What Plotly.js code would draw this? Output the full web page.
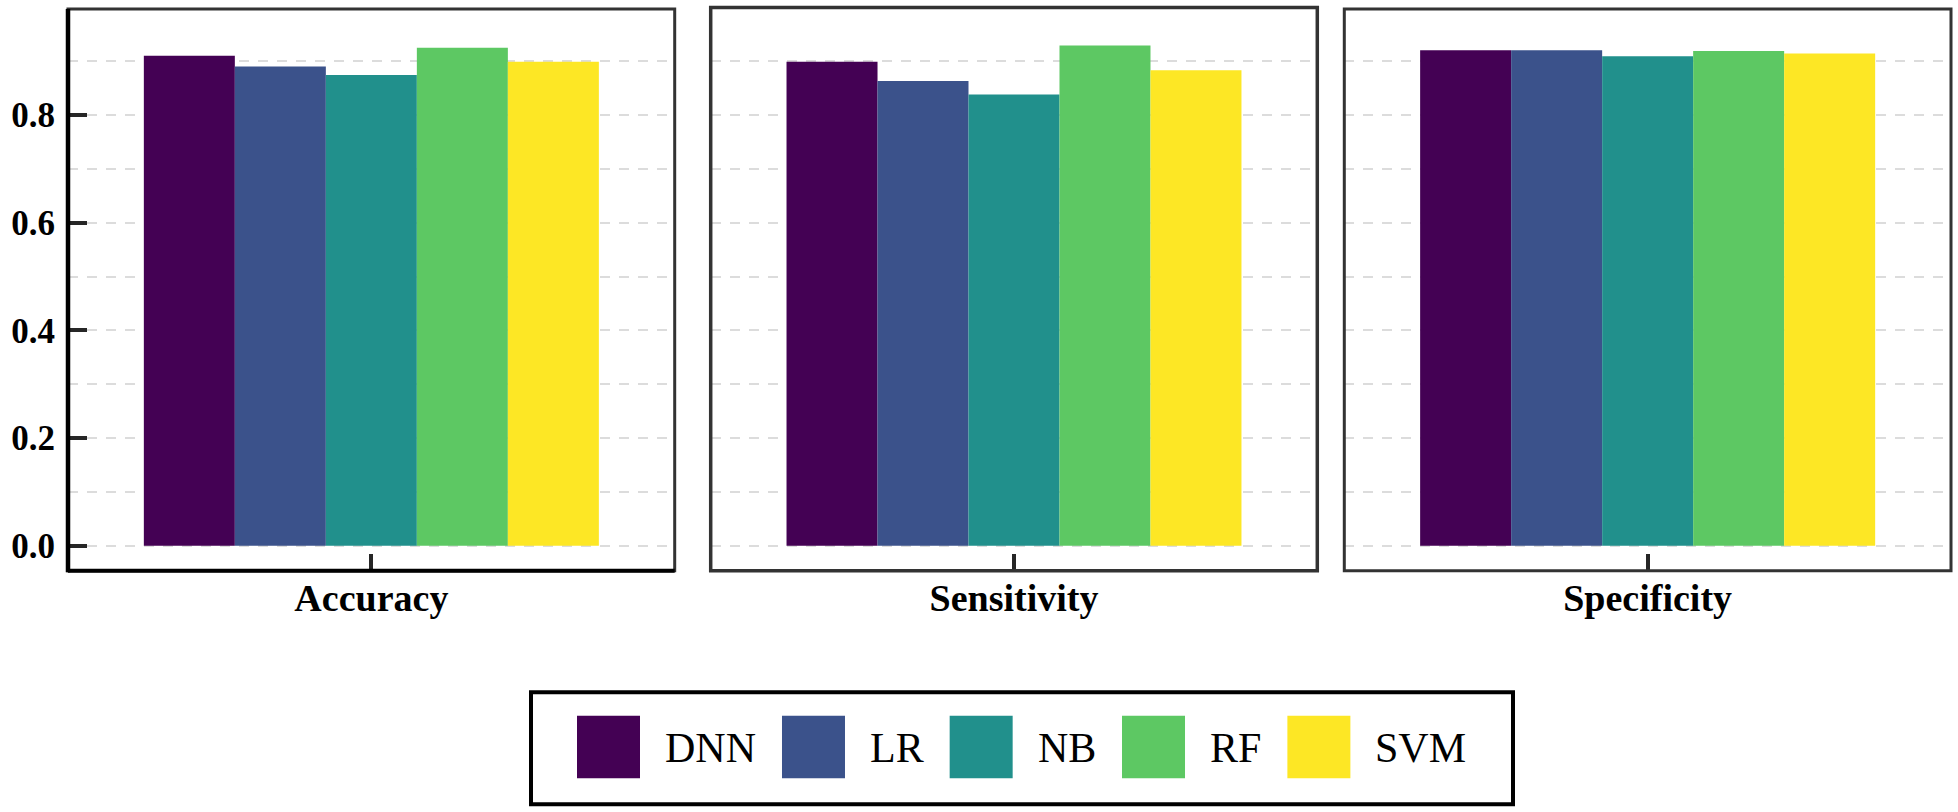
<!DOCTYPE html>
<html>
<head>
<meta charset="utf-8">
<script src="https://cdn.plot.ly/plotly-3.0.1.min.js"></script>
<style>html,body{margin:0;padding:0;background:#fff;}</style>
</head>
<body>
<div id="chart"></div>
<script>
// ---- data ----
const categories = ['Accuracy', 'Sensitivity', 'Specificity'];
const models = ['DNN', 'LR', 'NB', 'RF', 'SVM'];
const colors = ['#440154', '#3B528B', '#21908C', '#5DC863', '#FDE725'];
const DNN = [0.910, 0.899, 0.920];
const LR  = [0.890, 0.863, 0.920];
const NB  = [0.874, 0.838, 0.909];
const RF  = [0.925, 0.929, 0.919];
const SVM = [0.899, 0.883, 0.914];
const yTickVals = [0, 0.2, 0.4, 0.6, 0.8];
const yTickText = ['0.0', '0.2', '0.4', '0.6', '0.8'];
const seriesValues = [DNN, LR, NB, RF, SVM];

// ---- layout geometry (pixels) ----
const W = 1958, H = 812;
const panels = [[68, 674.7], [710.7, 1317.3], [1344.3, 1951]];
const panelTop = 9, panelBottom = 570.7;
const px = v => v / W;
const py = v => 1 - v / H;
const FONT = 'Liberation Serif';

const traces = [];
models.forEach((m, i) => {
  categories.forEach((c, p) => {
    const sfx = p === 0 ? '' : String(p + 1);
    traces.push({
      type: 'bar', name: m, x: [c], y: [seriesValues[i][p]],
      xaxis: 'x' + sfx, yaxis: 'y' + sfx,
      marker: { color: colors[i], line: { width: 0 } },
      showlegend: false, hoverinfo: 'skip'
    });
  });
});

const layout = {
  width: W, height: H,
  margin: { l: 0, r: 0, t: 0, b: 0 },
  paper_bgcolor: '#ffffff', plot_bgcolor: '#ffffff',
  barmode: 'group', bargap: 0.1, bargroupgap: 0,
  showlegend: false,
  font: { family: FONT, color: '#000' },
  shapes: [], annotations: []
};

const yDomain = [py(panelBottom), py(panelTop)];
categories.forEach((c, p) => {
  const sfx = p === 0 ? '' : String(p + 1);
  layout['xaxis' + sfx] = {
    domain: [px(panels[p][0]), px(panels[p][1])],
    anchor: 'y' + sfx,
    type: 'category', range: [-0.6, 0.6],
    showgrid: false, zeroline: false, showline: false,
    ticks: 'inside', ticklen: 17, tickwidth: 4, tickcolor: '#262626',
    ticklabelstandoff: 1,
    tickfont: { family: FONT, size: 38, color: '#000', weight: 700 },
    fixedrange: true
  };
  const gridStyle = { gridcolor: '#dcdcdc', griddash: '10px,9px', gridwidth: 2 };
  layout['yaxis' + sfx] = Object.assign({
    domain: yDomain, anchor: 'x' + sfx,
    range: [-0.0464, 0.9968],
    tickmode: 'array', tickvals: yTickVals, ticktext: yTickText,
    showgrid: true, zeroline: false, showline: false,
    ticks: p === 0 ? 'inside' : '', ticklen: 19, tickwidth: 4, tickcolor: '#262626',
    showticklabels: p === 0,
    ticklabelstandoff: 12,
    tickfont: { family: FONT, size: 35, color: '#000', weight: 700 },
    minor: Object.assign({ tick0: 0, dtick: 0.1, showgrid: true, ticks: '' }, gridStyle),
    fixedrange: true
  }, gridStyle);

  layout.shapes.push({
    type: 'rect', xref: 'paper', yref: 'paper', layer: 'above',
    x0: px(panels[p][0]), x1: px(panels[p][1]), y0: py(panelBottom), y1: py(p === 1 ? panelTop - 1.5 : panelTop),
    line: { color: '#333333', width: p === 1 ? 3.5 : 3 }, fillcolor: 'rgba(0,0,0,0)'
  });
});
layout.shapes.push({ type: 'line', xref: 'paper', yref: 'paper', layer: 'above',
  x0: px(panels[0][0]), x1: px(panels[0][0]), y0: py(panelBottom + 1.5), y1: py(panelTop),
  line: { color: '#000', width: 4.5 } });
layout.shapes.push({ type: 'line', xref: 'paper', yref: 'paper', layer: 'above',
  x0: px(panels[0][0]), x1: px(panels[0][1]), y0: py(panelBottom), y1: py(panelBottom),
  line: { color: '#000', width: 4 } });

// ---- legend (manual, big keys) ----
const legBox = { x0: 531, x1: 1513, y0: 692.3, y1: 804.3 };
layout.shapes.push({ type: 'rect', xref: 'paper', yref: 'paper', layer: 'above',
  x0: px(legBox.x0), x1: px(legBox.x1), y0: py(legBox.y1), y1: py(legBox.y0),
  line: { color: '#000', width: 4 }, fillcolor: 'rgba(0,0,0,0)' });
const ctx = document.createElement('canvas').getContext('2d');
ctx.font = '42px "Liberation Serif"';
const keyW = 63, keyTop = 715.7, keyBot = 778.3, gapKT = 23, gapTK = 28;
let cx = 577;
models.forEach((m, i) => {
  layout.shapes.push({ type: 'rect', xref: 'paper', yref: 'paper', layer: 'above',
    x0: px(cx), x1: px(cx + keyW), y0: py(keyBot), y1: py(keyTop),
    line: { width: 0 }, fillcolor: colors[i] });
  const tx = cx + keyW + gapKT;
  layout.annotations.push({ xref: 'paper', yref: 'paper', x: px(tx), y: py((keyTop + keyBot) / 2 + 1),
    xanchor: 'left', yanchor: 'middle', text: m, showarrow: false,
    font: { family: FONT, size: 42, color: '#000' } });
  cx = tx + ctx.measureText(m).width + gapTK;
});

Plotly.newPlot('chart', traces, layout, { displayModeBar: false, staticPlot: true });
</script>
</body>
</html>
